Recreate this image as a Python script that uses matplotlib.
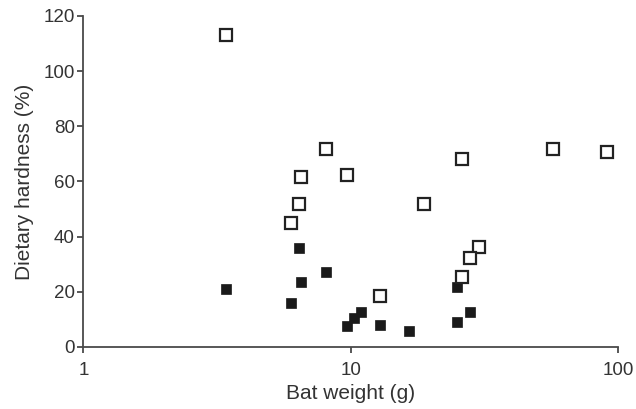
import matplotlib
matplotlib.use("Agg")
import matplotlib.pyplot as plt
from matplotlib.ticker import FixedLocator, NullLocator, FixedFormatter

plt.rcParams['font.family'] = ['Liberation Sans', 'DejaVu Sans']

# Open squares
open_x = [3.41, 8.09, 6.50, 6.41, 5.97, 9.69, 18.8, 26.0, 56.9, 90.8, 30.1, 28.0, 26.0, 12.9]
open_y = [113.0, 71.7, 61.7, 51.8, 45.0, 62.3, 51.7, 68.0, 71.7, 70.7, 36.1, 32.4, 25.5, 18.5]
# Filled squares
fill_x = [3.41, 5.97, 6.41, 6.50, 8.07, 9.69, 10.3, 10.9, 12.9, 16.5, 25.0, 25.0, 28.0]
fill_y = [20.9, 16.0, 36.0, 23.7, 27.3, 7.6, 10.4, 12.6, 7.9, 5.8, 21.6, 9.2, 12.6]

x_ticks = [1, 10, 100]
x_labels = ['1', '10', '100']
y_ticks = [0, 20, 40, 60, 80, 100, 120]

fig = plt.figure(figsize=(6.36, 4.09), dpi=100)
ax = fig.add_axes([0.131, 0.1516, 0.841, 0.8094])

ax.plot(fill_x, fill_y, linestyle='none', marker='s', markersize=7.5,
        markerfacecolor='#1a1a1a', markeredgecolor='#1a1a1a', markeredgewidth=0.5)
ax.plot(open_x, open_y, linestyle='none', marker='s', markersize=9,
        markerfacecolor='white', markeredgecolor='#222222', markeredgewidth=1.6)

ax.set_xscale('log')
ax.set_xlim(1, 100)
ax.set_ylim(0, 120)
ax.xaxis.set_major_locator(FixedLocator(x_ticks))
ax.xaxis.set_major_formatter(FixedFormatter(x_labels))
ax.xaxis.set_minor_locator(NullLocator())
ax.set_yticks(y_ticks)

for s in ['top', 'right']:
    ax.spines[s].set_visible(False)
for s in ['left', 'bottom']:
    ax.spines[s].set_color('#4a4a4a')
    ax.spines[s].set_linewidth(1.3)

ax.tick_params(axis='both', direction='out', length=4.5, width=1.3, color='#4a4a4a',
               labelsize=13.5, labelcolor='#333333', pad=1.5)
ax.tick_params(axis='x', pad=6)

ax.set_xlabel('Bat weight (g)', fontsize=15, color='#333333', labelpad=4)
ax.set_ylabel('Dietary hardness (%)', fontsize=15, color='#333333', labelpad=7)

fig.savefig('out.png', dpi=100)
